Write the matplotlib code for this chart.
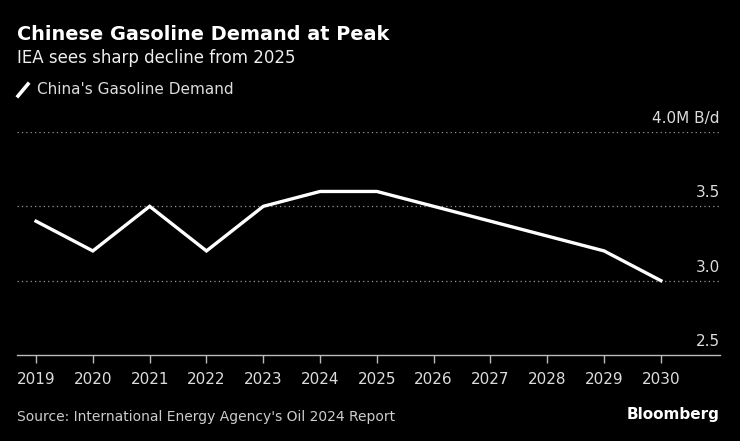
import matplotlib
matplotlib.use("Agg")
import matplotlib.pyplot as plt
import matplotlib.transforms as mtransforms
from matplotlib.lines import Line2D

years = [2019, 2020, 2021, 2022, 2023, 2024, 2025, 2026, 2027, 2028, 2029, 2030]
demand = [3.4, 3.2, 3.5, 3.2, 3.5, 3.6, 3.6, 3.5, 3.4, 3.3, 3.2, 3.0]
yticks = [2.5, 3.0, 3.5, 4.0]
ylabels = ["2.5", "3.0", "3.5", "4.0M B/d"]

plt.rcParams['font.family'] = ['DejaVu Sans']

fig = plt.figure(figsize=(7.4, 4.41), dpi=100)
fig.patch.set_facecolor('k')
ax = fig.add_axes([17 / 740, 86 / 441, 703 / 740, 223 / 441])
ax.set_facecolor('k')

ax.plot(years, demand, color='w', lw=2.4, solid_joinstyle='miter', zorder=3)

ax.set_xlim(2018.665, 2031.04)
ax.set_ylim(2.5, 4.0)

for s in ['top', 'right', 'left']:
    ax.spines[s].set_visible(False)
ax.spines['bottom'].set_color('#bbbbbb')
ax.spines['bottom'].set_linewidth(1)

ax.set_xticks(years)
ax.set_xticklabels([str(y) for y in years])
ax.tick_params(axis='x', colors='#bbbbbb', length=6, width=1, labelcolor='#dddddd',
               labelsize=11, pad=6)
ax.set_yticks([])

trans = mtransforms.blended_transform_factory(ax.transAxes, ax.transData)
for v, lab in zip(yticks, ylabels):
    if v > yticks[0]:
        ax.axhline(v, color='#999999', lw=0.9, ls=(0, (1, 2.5)), zorder=1)
    ax.text(1.0, v + 0.04, lab, transform=trans, ha='right', va='bottom',
            color='#dddddd', fontsize=11)

fig.text(17 / 740, 1 - 35 / 441, "Chinese Gasoline Demand at Peak", color='w',
         fontsize=13.9, fontweight='bold', va='center', ha='left')
fig.text(17 / 740, 1 - 58 / 441, "IEA sees sharp decline from 2025", color='#eeeeee',
         fontsize=12, va='center', ha='left')
fig.lines.append(Line2D([18 / 740, 28 / 740], [1 - 96 / 441, 1 - 84 / 441],
                        transform=fig.transFigure, color='w', lw=2.6))
fig.text(37 / 740, 1 - 90 / 441, "China's Gasoline Demand", color='#dddddd',
         fontsize=11, va='center', ha='left')
fig.text(17 / 740, 1 - 417 / 441, "Source: International Energy Agency's Oil 2024 Report",
         color='#cccccc', fontsize=10, va='center', ha='left')
fig.text(720 / 740, 1 - 414 / 441, "Bloomberg", color='w', fontsize=11,
         fontweight='bold', va='center', ha='right')

fig.savefig('out.png', dpi=100, facecolor='k')
